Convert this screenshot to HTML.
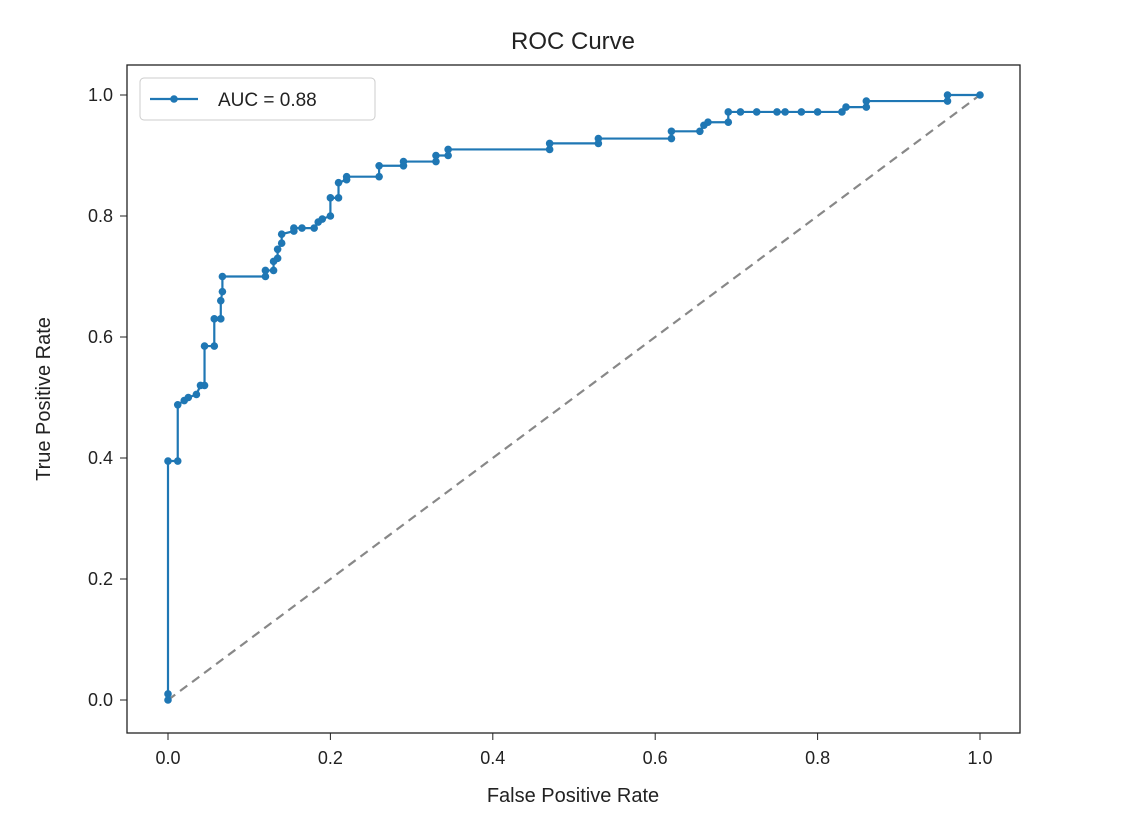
<!DOCTYPE html>
<html><head><meta charset="utf-8"><style>
body{margin:0;background:#fff;}
svg text{font-family:"Liberation Sans","DejaVu Sans",sans-serif;fill:#222;}
</style></head><body>
<svg id="chart" width="1130" height="833" xmlns="http://www.w3.org/2000/svg">
<rect width="1130" height="833" fill="#fff"/>
<text x="573" y="49" font-size="24" text-anchor="middle">ROC Curve</text>
<rect x="127" y="65" width="893" height="668" fill="none" stroke="#222" stroke-width="1.3"/>
<g id="ticks"></g>
<line id="diag" stroke="#888" stroke-width="2.2" stroke-dasharray="9,6"/>
<g id="series"></g>
<text x="573" y="802" font-size="20" text-anchor="middle">False Positive Rate</text>
<text x="50" y="399" font-size="20" text-anchor="middle" transform="rotate(-90 50 399)">True Positive Rate</text>
<g>
<rect x="140" y="78" width="235" height="42" rx="4" fill="#fff" stroke="#ccc"/>
<line x1="150" y1="99" x2="198" y2="99" stroke="#1f77b4" stroke-width="2.2"/>
<circle cx="174" cy="99" r="3.8" fill="#1f77b4"/>
<text x="218" y="106" font-size="19">AUC = 0.88</text>
</g>
</svg>
<script>
const xTicks=[0,0.2,0.4,0.6,0.8,1.0];
const yTicks=[0,0.2,0.4,0.6,0.8,1.0];
const fpr=[0,0,0,0.012,0.012,0.02,0.025,0.035,0.04,0.045,0.045,0.057,0.057,0.065,0.065,0.067,0.067,0.12,0.12,0.13,0.13,0.135,0.135,0.14,0.14,0.155,0.155,0.165,0.18,0.185,0.19,0.2,0.2,0.21,0.21,0.22,0.22,0.26,0.26,0.29,0.29,0.33,0.33,0.345,0.345,0.47,0.47,0.53,0.53,0.62,0.62,0.655,0.66,0.665,0.69,0.69,0.705,0.725,0.75,0.76,0.78,0.8,0.83,0.835,0.86,0.86,0.96,0.96,1];
const tpr=[0,0.01,0.395,0.395,0.488,0.495,0.5,0.505,0.52,0.52,0.585,0.585,0.63,0.63,0.66,0.675,0.70,0.70,0.71,0.71,0.725,0.73,0.745,0.755,0.77,0.775,0.78,0.78,0.78,0.79,0.795,0.8,0.83,0.83,0.855,0.86,0.865,0.865,0.883,0.883,0.89,0.89,0.9,0.9,0.91,0.91,0.92,0.92,0.928,0.928,0.94,0.94,0.95,0.955,0.955,0.972,0.972,0.972,0.972,0.972,0.972,0.972,0.972,0.98,0.98,0.99,0.99,1.0,1];
const NS="http://www.w3.org/2000/svg";
const sx=v=>168+v*812, sy=v=>700-v*605;
const tg=document.getElementById('ticks');
xTicks.forEach(t=>{
  const l=document.createElementNS(NS,'line');
  
  
  l.setAttribute('x1',sx(t));l.setAttribute('x2',sx(t));l.setAttribute('y1',733);l.setAttribute('y2',740);l.setAttribute('stroke','#222');
  tg.appendChild(l);
  const tx=document.createElementNS(NS,'text');
  
  
  tx.setAttribute('x',sx(t));tx.setAttribute('y',764);tx.setAttribute('font-size','18');tx.setAttribute('text-anchor','middle');
  tx.textContent=t.toFixed(1);tg.appendChild(tx);
});
yTicks.forEach(t=>{
  const l=document.createElementNS(NS,'line');
  
  
  l.setAttribute('x1',120);l.setAttribute('x2',127);l.setAttribute('y1',sy(t));l.setAttribute('y2',sy(t));l.setAttribute('stroke','#222');
  tg.appendChild(l);
  const tx=document.createElementNS(NS,'text');
  
  
  tx.setAttribute('x',113);tx.setAttribute('y',sy(t)+6);tx.setAttribute('font-size','18');tx.setAttribute('text-anchor','end');
  tx.textContent=t.toFixed(1);tg.appendChild(tx);
});
const d=document.getElementById('diag');
d.setAttribute('x1',sx(0));d.setAttribute('y1',sy(0));d.setAttribute('x2',sx(1));d.setAttribute('y2',sy(1));
const g=document.getElementById('series');
const pl=document.createElementNS(NS,'polyline');


pl.setAttribute('points',fpr.map((f,i)=>sx(f)+','+sy(tpr[i])).join(' '));
pl.setAttribute('fill','none');pl.setAttribute('stroke','#1f77b4');pl.setAttribute('stroke-width','2.2');
g.appendChild(pl);
fpr.forEach((f,i)=>{
  const c=document.createElementNS(NS,'circle');
  
  
  c.setAttribute('cx',sx(f));c.setAttribute('cy',sy(tpr[i]));c.setAttribute('r',3.8);c.setAttribute('fill','#1f77b4');
  g.appendChild(c);
});
</script>
</body></html>
